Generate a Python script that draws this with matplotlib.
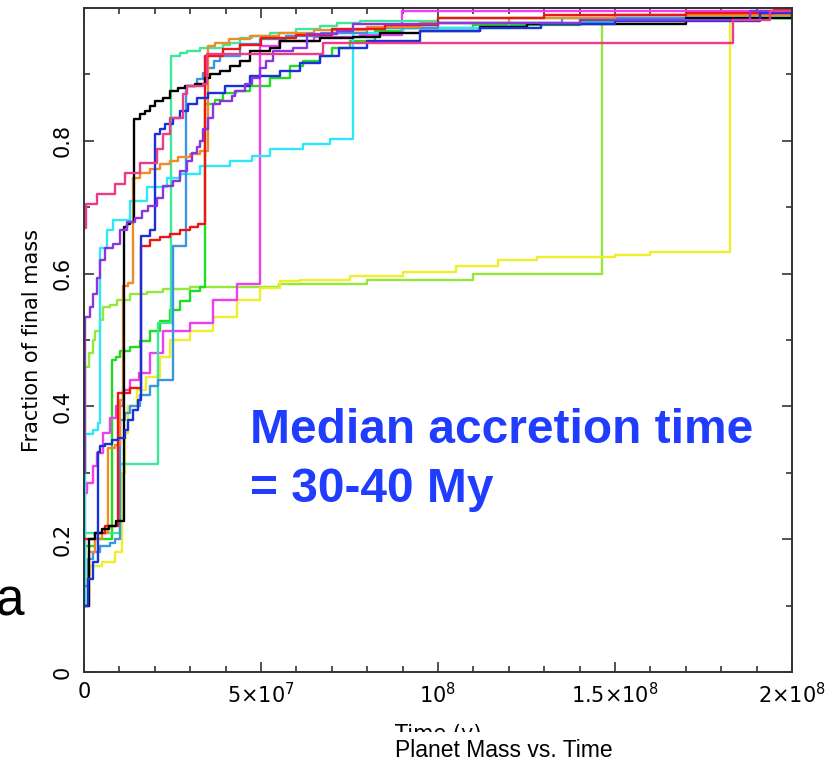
import matplotlib
matplotlib.use("Agg")
import matplotlib.pyplot as plt
from matplotlib.patches import Rectangle
from matplotlib.ticker import MultipleLocator

# Accretion histories: time in Myr, fraction of final planet mass (step curves)
black_t = [0, 1.5, 3.0, 5, 7, 9, 11.3, 12.1, 13.0, 14.1, 15.8, 17.2, 18.6, 20.1, 22.3, 24.3, 26.6,
           28.5, 31.4, 34.2, 35.6, 38.4, 41.2, 44.1, 46.9, 52.5, 55.4, 66.7, 76, 83.6, 95, 112, 125, 170, 200]
black_f = [0.10, 0.20, 0.21, 0.215, 0.22, 0.228, 0.67, 0.675, 0.678, 0.833, 0.84, 0.845, 0.853, 0.86,
           0.865, 0.875, 0.88, 0.883, 0.886, 0.895, 0.90, 0.905, 0.913, 0.92, 0.935, 0.94, 0.95, 0.955,
           0.957, 0.962, 0.965, 0.972, 0.976, 0.985, 0.99]

red_t = [0, 3, 6, 9.6, 13, 16.1, 18.6, 21.5, 24.3, 27.1, 29.9, 32.2, 34.2, 39.3, 44, 50, 60, 70, 85,
         100, 130, 170, 195, 200]
red_f = [0.20, 0.21, 0.22, 0.42, 0.427, 0.642, 0.65, 0.655, 0.66, 0.665, 0.67, 0.675, 0.928, 0.938,
         0.945, 0.955, 0.96, 0.968, 0.975, 0.985, 0.99, 0.993, 0.997, 0.997]

orange_t = [0, 1.5, 3, 5, 6.8, 8.8, 10.2, 11.0, 12.5, 13.8, 15.8, 18.6, 21.5, 24.3, 26.6, 29.9, 32.8,
            35.0, 37, 41, 47, 55, 65, 80, 95, 120, 150, 200]
orange_f = [0.10, 0.18, 0.20, 0.21, 0.338, 0.342, 0.41, 0.582, 0.586, 0.744, 0.752, 0.758, 0.765, 0.77,
            0.775, 0.78, 0.785, 0.943, 0.947, 0.953, 0.958, 0.962, 0.967, 0.972, 0.978, 0.985, 0.99, 0.993]

green_t = [0, 3, 7.9, 9, 10.2, 13, 15.8, 18.6, 21.5, 24.3, 27.1, 29.9, 32.8, 34.2, 37, 39.3, 43, 47,
           52.5, 58.2, 62, 66.7, 70, 75, 82.2, 90, 110, 140, 170, 200]
green_f = [0.19, 0.20, 0.47, 0.475, 0.484, 0.49, 0.499, 0.514, 0.529, 0.545, 0.559, 0.574, 0.58, 0.855,
           0.862, 0.872, 0.875, 0.883, 0.895, 0.913, 0.92, 0.928, 0.94, 0.95, 0.965, 0.97, 0.975, 0.98,
           0.985, 0.99]

lime_t = [0, 0.3, 1.5, 2.5, 3.1, 4.5, 5.4, 7.3, 9.3, 13, 17.8, 22.3, 30, 55, 80, 110, 146.3, 170, 200]
lime_f = [0.10, 0.459, 0.48, 0.50, 0.514, 0.53, 0.549, 0.552, 0.56, 0.57, 0.572, 0.577, 0.58, 0.585,
          0.59, 0.60, 0.98, 0.985, 0.99]

yellow_t = [0, 1.7, 5, 8.8, 10.7, 11.5, 12.5, 14.9, 17.5, 21.5, 24.3, 29.9, 36.4, 43.2, 49.7, 55.4,
            61, 75, 90, 105, 117, 128, 150, 160, 182.5, 200]
yellow_f = [0.14, 0.16, 0.165, 0.18, 0.30, 0.36, 0.40, 0.424, 0.444, 0.474, 0.50, 0.514, 0.534, 0.56,
            0.579, 0.589, 0.59, 0.597, 0.603, 0.612, 0.62, 0.625, 0.628, 0.632, 0.985, 0.987]

cyan_t = [0, 0.3, 2.5, 4.0, 4.5, 6.5, 8.2, 13, 17.8, 23.4, 27.1, 32.8, 41.2, 47.5, 52.5, 61.9, 69.5,
          76.0, 90, 120, 150, 200]
cyan_f = [0.10, 0.359, 0.364, 0.375, 0.639, 0.665, 0.68, 0.71, 0.73, 0.744, 0.75, 0.762, 0.77, 0.777,
          0.788, 0.795, 0.803, 0.962, 0.97, 0.978, 0.985, 0.99]

steel_t = [0, 1, 2.5, 4.5, 7.3, 8.8, 10.2, 11.5, 13, 15.8, 18.6, 21, 25.1, 28.8, 31.9, 33.6, 34.7,
           36.7, 38.4, 44, 49.7, 57, 67, 80, 100, 135, 170, 200]
steel_f = [0.13, 0.17, 0.18, 0.19, 0.195, 0.20, 0.379, 0.39, 0.40, 0.417, 0.43, 0.44, 0.642, 0.883,
           0.893, 0.902, 0.91, 0.92, 0.928, 0.946, 0.953, 0.958, 0.962, 0.97, 0.978, 0.985, 0.99, 0.993]

blue_t = [0, 1.1, 2.5, 4.0, 4.5, 5.9, 8, 9.6, 11.5, 12.5, 13.8, 15.3, 16.1, 18.6, 20.1, 21.5, 23, 25,
          27.1, 29.5, 32, 35, 39.8, 46.9, 55.4, 61, 66.7, 72, 80, 95, 112, 129, 150, 191, 200]
blue_f = [0.10, 0.14, 0.165, 0.331, 0.341, 0.344, 0.349, 0.353, 0.364, 0.38, 0.394, 0.409, 0.657,
          0.665, 0.81, 0.818, 0.825, 0.835, 0.845, 0.855, 0.865, 0.872, 0.883, 0.898, 0.905, 0.917,
          0.928, 0.94, 0.95, 0.965, 0.97, 0.976, 0.98, 0.992, 0.995]

purple_t = [0, 0.3, 1.7, 2.5, 3.7, 4.5, 5.9, 8.2, 10.2, 12.1, 14.4, 16.4, 18, 20.6, 22.3, 25.1, 27.1,
            29.1, 30.5, 31.9, 32.8, 33.6, 35, 36.4, 38.4, 41.8, 42.7, 45.5, 47.5, 49.7, 51.4, 53.4,
            59, 63, 71.5, 76, 100, 140, 188.1, 200]
purple_f = [0.30, 0.534, 0.549, 0.57, 0.594, 0.62, 0.639, 0.645, 0.665, 0.677, 0.683, 0.695, 0.702,
            0.714, 0.732, 0.74, 0.755, 0.77, 0.782, 0.79, 0.80, 0.818, 0.835, 0.856, 0.86, 0.868,
            0.875, 0.885, 0.895, 0.91, 0.92, 0.935, 0.94, 0.961, 0.965, 0.976, 0.978, 0.982, 0.995,
            0.997]

magenta_t = [0, 0.8, 2.5, 3.7, 5.5, 7.3, 9, 11, 13, 15.5, 18.6, 22.3, 30, 36.4, 43.2, 49.7, 55, 65,
             78, 89.8, 200]
magenta_f = [0.27, 0.284, 0.31, 0.33, 0.36, 0.383, 0.40, 0.424, 0.44, 0.45, 0.48, 0.514, 0.525, 0.56,
             0.585, 0.943, 0.95, 0.956, 0.96, 0.995, 0.998]

pink_t = [0, 0.6, 3.7, 8.8, 11.6, 15.8, 20.6, 22.3, 24.3, 28.0, 29.1, 33.6, 34.7, 67.5, 183.3, 193.8,
          200]
pink_f = [0.669, 0.705, 0.72, 0.735, 0.752, 0.767, 0.788, 0.81, 0.835, 0.871, 0.883, 0.886, 0.931,
          0.947, 0.982, 0.996, 0.996]

spring_t = [0, 0.3, 10.2, 21.0, 24.6, 27.1, 29.1, 32.8, 39.3, 41.2, 44, 47.5, 52.5, 60, 66.7, 71.5,
            78, 100, 150, 200]
spring_f = [0.10, 0.21, 0.313, 0.525, 0.928, 0.932, 0.935, 0.94, 0.945, 0.947, 0.955, 0.958, 0.962,
            0.968, 0.973, 0.977, 0.98, 0.985, 0.99, 0.993]

curves = [
    (lime_t, lime_f, "#95e83a"),
    (yellow_t, yellow_f, "#eeee2a"),
    (green_t, green_f, "#1edc1e"),
    (magenta_t, magenta_f, "#ee3eee"),
    (spring_t, spring_f, "#3de89a"),
    (cyan_t, cyan_f, "#2ee8fa"),
    (steel_t, steel_f, "#3a96e0"),
    (orange_t, orange_f, "#f08c28"),
    (red_t, red_f, "#ee1515"),
    (black_t, black_f, "#000000"),
    (blue_t, blue_f, "#1a30dc"),
    (purple_t, purple_f, "#8a35dd"),
    (pink_t, pink_f, "#ee3a88"),
]

xtick_vals = [0, 5e7, 1e8, 1.5e8, 2e8]
xtick_text = ["0", r"5$\times$10$^7$", r"10$^8$", r"1.5$\times$10$^8$", r"2$\times$10$^8$"]
ytick_vals = [0, 0.2, 0.4, 0.6, 0.8]
ytick_text = ["0", "0.2", "0.4", "0.6", "0.8"]

W, H = 834, 762
fig = plt.figure(figsize=(W / 100, H / 100), dpi=100)
ax = fig.add_axes([84 / W, 1 - 672 / H, (792 - 84) / W, (672 - 8) / H])

for t, f, c in curves:
    ax.step([v * 1e6 for v in t], f, where="post", color=c, lw=1.7)

ax.set_xlim(0, 2e8)
ax.set_ylim(0, 1.0)
ax.set_xticks(xtick_vals)
ax.set_xticklabels(xtick_text)
ax.set_yticks(ytick_vals)
ax.set_yticklabels(ytick_text, rotation=90, va="center")
ax.xaxis.set_minor_locator(MultipleLocator(1e7))
ax.yaxis.set_minor_locator(MultipleLocator(0.1))
ax.tick_params(which="both", direction="in", top=True, right=True, color="#333333",
               width=1.2, labelsize=15)
ax.tick_params(which="major", length=7.5)
ax.tick_params(which="minor", length=4.5)
ax.tick_params(axis="x", pad=7)
ax.tick_params(axis="y", pad=8)
for s in ax.spines.values():
    s.set_color("#333333")
    s.set_linewidth(1.4)

ax.set_xlabel("Time (y)", fontsize=15, va="top")
ax.xaxis.set_label_coords(0.5, -0.079)
ax.set_ylabel("Fraction of final mass", fontsize=15)
ax.yaxis.set_label_coords(-0.06, 0.5)

# caption box sits over the lower part of the axis title
fig.add_artist(Rectangle((360 / W, 0), 320 / W, 30 / H, transform=fig.transFigure,
                         facecolor="white", edgecolor="none", zorder=5))
fig.text(504 / W, 1 - 757 / H, "Planet Mass vs. Time", ha="center", va="baseline",
         fontsize=16.5, family="Liberation Sans", zorder=6)

fig.text(250 / W, 1 - 443 / H, "Median accretion time", color="#1f3cff", fontsize=34.5,
         fontweight="bold", family="Liberation Sans", va="baseline")
fig.text(250 / W, 1 - 502 / H, "= 30-40 My", color="#1f3cff", fontsize=34.5,
         fontweight="bold", family="Liberation Sans", va="baseline")

fig.text(-4 / W, 1 - 616 / H, "a", fontsize=37, family="Liberation Sans", va="baseline")

fig.savefig("out.png", dpi=100)
